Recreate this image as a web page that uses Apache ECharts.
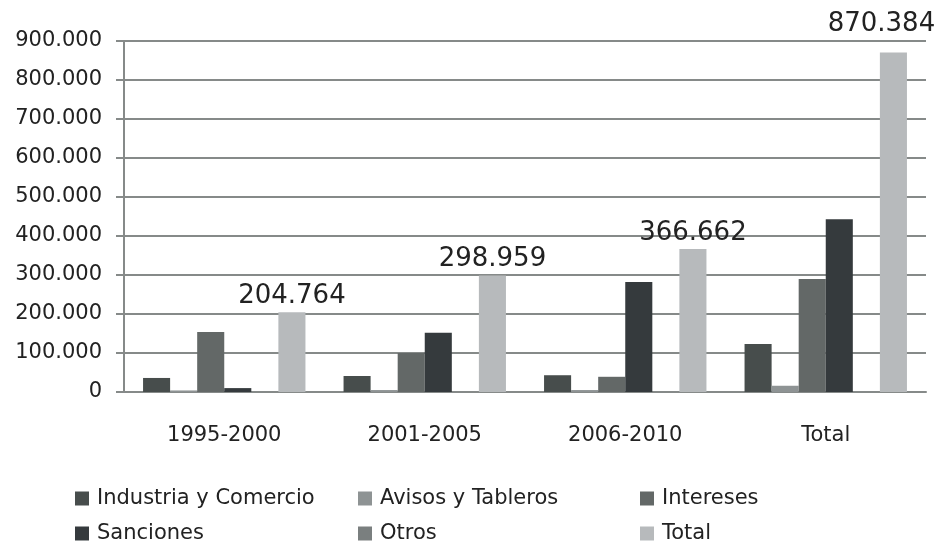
<!DOCTYPE html>
<html>
<head>
<meta charset="utf-8">
<script src="https://cdn.jsdelivr.net/npm/echarts@6/dist/echarts.min.js"></script>
<style>
  html, body { margin: 0; padding: 0; background: #fff; }
  #chart { width: 934px; height: 543px; }
</style>
</head>
<body>
<div id="chart"></div>
<script>
var categories = ['1995-2000', '2001-2005', '2006-2010', 'Total'];
var seriesNames = ['Industria y Comercio', 'Avisos y Tableros', 'Intereses', 'Sanciones', 'Otros', 'Total'];
var industria = [36000, 41000, 43000, 123000];
var avisos = [4000, 5000, 5000, 16000];
var intereses = [154000, 100000, 39000, 290000];
var sanciones = [10000, 152000, 282000, 443000];
var otros = [0, 0, 0, 0];
var total = [204764, 298959, 366662, 870384];
var colors = ['#474d4c', '#8e9394', '#636867', '#353a3d', '#7a7f7f', '#b7babc'];

// formato con punto de miles
function fmt(v) {
    return String(Math.round(v)).replace(/\B(?=(\d{3})+(?!\d))/g, '.');
}

var font = '"DejaVu Sans", sans-serif';
var allData = [industria, avisos, intereses, sanciones, otros, total];

var series = [];
for (var i = 0; i < seriesNames.length; i++) {
    var s = {
        name: seriesNames[i],
        type: 'bar',
        data: allData[i],
        barGap: 0,
        barCategoryGap: '19%',
        itemStyle: { color: colors[i] }
    };
    if (i === 5) {
        // la etiqueta del último valor se corre para que quepa
        s.data = total.map(function (v, k) {
            return k === total.length - 1 ? { value: v, label: { offset: [-12, -12] } } : v;
        });
        s.label = {
            show: true,
            position: 'top',
            distance: 3,
            fontFamily: font,
            fontSize: 26,
            color: '#222',
            formatter: function (p) { return fmt(p.value); }
        };
    }
    series.push(s);
}

var legendPos = [[75, 488], [358, 488], [640, 488], [75, 523], [358, 523], [640, 523]];
var legends = [];
for (var j = 0; j < seriesNames.length; j++) {
    legends.push({
        data: [seriesNames[j]],
        left: legendPos[j][0],
        top: legendPos[j][1],
        padding: 0,
        itemWidth: 14,
        itemHeight: 14,
        itemGap: 0,
        icon: 'rect',
        textStyle: { fontFamily: font, fontSize: 21, color: '#222', padding: [0, 0, 0, 3] }
    });
}

var myChart = echarts.init(document.getElementById('chart'));
var option = {
    animation: false,
    backgroundColor: '#fff',
    grid: { left: 124, right: 8, top: 41, bottom: 151, containLabel: false },
    legend: legends,
    xAxis: {
        type: 'category',
        data: categories,
        axisLine: { show: true, lineStyle: { color: '#868a89', width: 2 } },
        axisTick: { show: false },
        axisLabel: { fontFamily: font, fontSize: 21, color: '#222', margin: 33 }
    },
    yAxis: {
        type: 'value',
        min: 0,
        max: 900000,
        interval: 100000,
        axisLine: { show: true, lineStyle: { color: '#868a89', width: 2 } },
        axisTick: { show: true, inside: false, length: 8, lineStyle: { color: '#868a89', width: 2 } },
        splitLine: { show: true, lineStyle: { color: '#868a89', width: 2 } },
        axisLabel: {
            fontFamily: font, fontSize: 21, color: '#222', margin: 22,
            formatter: function (v) { return fmt(v); }
        }
    },
    series: series
};
myChart.setOption(option);
</script>
</body>
</html>
